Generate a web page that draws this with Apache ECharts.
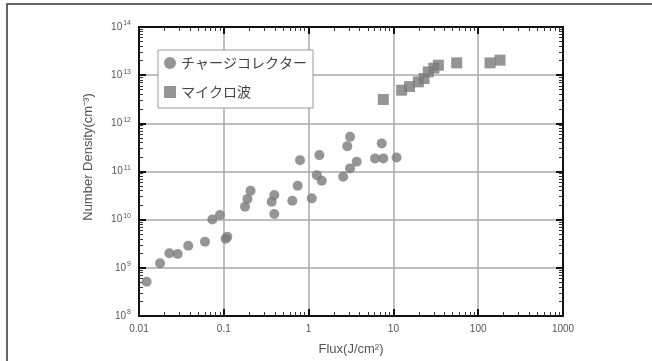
<!DOCTYPE html>
<html><head><meta charset="utf-8">
<script src="https://cdn.jsdelivr.net/npm/echarts@6/dist/echarts.min.js"></script>
<style>html,body{margin:0;padding:0;background:#fff}#c{width:652px;height:361px}</style>
</head><body><div id="c"></div>
<script>
const seriesNames = ['チャージコレクター', 'マイクロ波'];
const chargeX = [0.0123, 0.0177, 0.0228, 0.0286, 0.0381, 0.060, 0.105, 0.110, 0.0733, 0.090, 0.178, 0.19, 0.207, 0.367, 0.394, 0.394, 0.643, 0.743, 0.792, 1.09, 1.34, 1.25, 1.43, 3.08, 2.86, 2.56, 3.08, 3.69, 7.28, 6.07, 7.6, 10.9];
const chargeY = [5.15e8, 1.24e9, 2.0e9, 1.93e9, 2.88e9, 3.48e9, 4.0e9, 4.4e9, 1.01e10, 1.25e10, 1.85e10, 2.7e10, 4.0e10, 2.35e10, 3.24e10, 1.31e10, 2.47e10, 5.05e10, 1.72e11, 2.77e10, 2.19e11, 8.4e10, 6.4e10, 5.25e11, 3.36e11, 7.77e10, 1.16e11, 1.59e11, 3.83e11, 1.87e11, 1.87e11, 1.96e11];
const microX = [7.6, 12.5, 15.5, 19.7, 23, 25.8, 30, 33.9, 55.8, 138, 181];
const microY = [3.13e12, 4.88e12, 5.8e12, 7.26e12, 8.5e12, 1.17e13, 1.4e13, 1.61e13, 1.8e13, 1.8e13, 2.05e13];
const xTickLabels = ['0.01', '0.1', '1', '10', '100', '1000'];
const yTickExponents = ['8', '9', '10', '11', '12', '13', '14'];
const xName = 'Flux(J/cm²)';
const yName = 'Number Density(cm⁻³)';

function minorTicks(lo, hi) {
  const out = [];
  for (let n = lo; n < hi; n++) for (let k = 2; k <= 9; k++) out.push(n + Math.log10(k));
  return out;
}
const xMinor = minorTicks(-2, 3);
const yMinor = minorTicks(8, 14);

const markerColor = '#7a7a7a';
const lineC = '#111';
const chart = echarts.init(document.getElementById('c'));
const labelStyle = { color: '#555', fontFamily: 'Liberation Sans, Arial', fontSize: 10 };

const majorX = (pos, show) => ({
  type: 'log', logBase: 10, min: 0.01, max: 1000, position: pos, gridIndex: 0,
  axisLine: { show: true, onZero: false, lineStyle: { color: lineC, width: 2 } },
  axisTick: { show: true, inside: true, length: 7, lineStyle: { color: '#111', width: 2 } },
  axisLabel: show ? Object.assign({ margin: 8, formatter: (v, i) => xTickLabels[i] }, labelStyle) : { show: false },
  splitLine: { show: show, lineStyle: { color: '#a8a8a8', width: 1.5 } },
  name: show ? xName : '', nameLocation: 'middle', nameGap: 27,
  nameTextStyle: { color: '#555', fontSize: 13, fontFamily: 'Liberation Sans, Arial' }
});
const minorX = (pos) => ({
  type: 'value', min: -2, max: 3, position: pos, gridIndex: 0,
  axisLine: { show: true, onZero: false, lineStyle: { color: lineC, width: 2 } },
  axisLabel: { show: false }, splitLine: { show: false },
  axisTick: { show: true, inside: true, length: 4, customValues: xMinor, lineStyle: { color: '#333', width: 1 } }
});
const majorY = (pos, show) => ({
  type: 'log', logBase: 10, min: 1e8, max: 1e14, position: pos, gridIndex: 0,
  axisLine: { show: true, onZero: false, lineStyle: { color: lineC, width: 2 } },
  axisTick: { show: true, inside: true, length: 7, lineStyle: { color: '#111', width: 2 } },
  axisLabel: show ? {
    margin: 8, color: '#555', fontFamily: 'Liberation Sans, Arial', fontSize: 10,
    formatter: (v, i) => '10{s|' + yTickExponents[i] + '}',
    rich: { s: { fontSize: 7, color: '#555', padding: [0, 0, 7, 1], fontFamily: 'Liberation Sans, Arial' } }
  } : { show: false },
  splitLine: { show: show, lineStyle: { color: '#a8a8a8', width: 1.5 } }
});
const minorY = (pos) => ({
  type: 'value', min: 8, max: 14, position: pos, gridIndex: 0,
  axisLine: { show: true, onZero: false, lineStyle: { color: lineC, width: 2 } },
  axisLabel: { show: false }, splitLine: { show: false },
  axisTick: { show: true, inside: true, length: 4, customValues: yMinor, lineStyle: { color: '#333', width: 1 } }
});

chart.setOption({
  animation: false,
  backgroundColor: '#fff',
  grid: { left: 139, top: 27, right: 89, bottom: 45 },
  xAxis: [majorX('bottom', true), majorX('top', false), minorX('bottom'), minorX('top')],
  yAxis: [majorY('left', true), majorY('right', false), minorY('left'), minorY('right')],
  legend: {
    orient: 'vertical', left: 158, top: 50,
    padding: [5, 6, 8, 6], itemGap: 13, itemWidth: 12, itemHeight: 12, itemTextGap: 6,
    borderColor: '#999', borderWidth: 1, backgroundColor: '#fff',
    textStyle: { color: '#444', fontSize: 14, lineHeight: 16, fontFamily: 'Noto Sans CJK JP' },
    data: [{ name: seriesNames[0], icon: 'circle' }, { name: seriesNames[1], icon: 'rect' }]
  },
  graphic: [
    { type: 'rect', shape: { x: 7, y: 4, width: 700, height: 400 }, style: { fill: 'none', stroke: '#333', lineWidth: 1.5 }, silent: true },
    { type: 'text', x: 88, y: 157, rotation: Math.PI / 2,
      style: { text: yName, fill: '#555', fontSize: 13, fontFamily: 'Liberation Sans, Arial', align: 'center', verticalAlign: 'middle' } }
  ],
  series: [
    { name: seriesNames[0], type: 'scatter', xAxisIndex: 0, yAxisIndex: 0, symbol: 'circle', symbolSize: 10,
      itemStyle: { color: markerColor }, data: chargeX.map((x, i) => [x, chargeY[i]]) },
    { name: seriesNames[1], type: 'scatter', xAxisIndex: 0, yAxisIndex: 0, symbol: 'rect', symbolSize: 11,
      itemStyle: { color: markerColor }, data: microX.map((x, i) => [x, microY[i]]) }
  ]
});
</script></body></html>
